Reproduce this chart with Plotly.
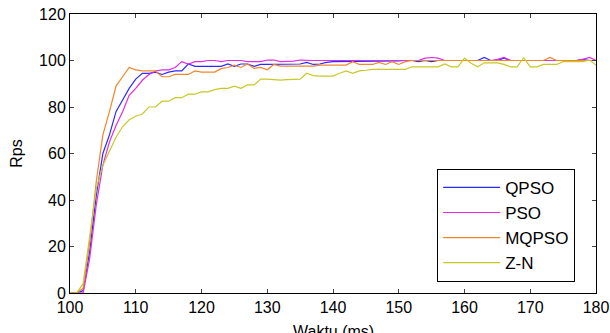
import plotly.graph_objects as go

t = list(range(100, 181))

qpso = [0, 0, 1, 18, 42, 60, 68, 78, 83, 88,
        92, 94.5, 94.5, 95, 94, 95, 95.5, 95.5, 98.5, 97.5,
        97.5, 97.5, 97.5, 97.5, 98.5, 97.5, 98.5, 98.5, 97.5, 98.3,
        98.3, 98.3, 98.3, 98.3, 98.3, 98.5, 99.2, 98.3, 98.5, 99.2,
        99.5, 99.5, 99.5, 99.5, 99.5, 99.8, 99.5, 99.5, 99.5, 99.8,
        99.8, 100, 100, 99.5, 100, 99.5, 100, 100, 100, 100,
        100, 100, 100, 101.3, 100, 100, 101, 100, 100, 100,
        100, 100, 100, 100, 100, 100, 100, 100, 100.5, 100, 100]

pso = [0, 0, 0, 15, 38, 55, 65, 72, 78, 85,
       88, 91.5, 94, 95.5, 96, 96, 97, 99.5, 98.5, 99.5,
       99.5, 100, 100, 99.5, 100, 100, 100, 99.5, 99.5, 99.5,
       100.2, 100.2, 99.5, 99.5, 99.7, 100.2, 100, 100, 100, 100,
       100, 100, 100, 100, 100, 100, 100, 100, 100, 100,
       100, 100, 100, 100, 101, 101.3, 101, 100, 100, 100,
       100, 100, 100, 100, 100, 100.5, 101.3, 100, 100, 100,
       100, 100, 100, 100, 100, 100, 100, 100, 100.5, 101.3, 100]

mqpso = [0, 0, 2, 22, 48, 68, 78, 89, 93, 97,
         96, 95.5, 95.5, 95.5, 93, 93, 94, 94, 94, 95.5,
         95, 95, 95, 96.5, 97, 98, 97, 98.5, 96.6, 97,
         96, 98.3, 97.6, 97.6, 97.6, 97.6, 97.6, 97.6, 98, 98,
         98.3, 98.3, 98, 99.5, 98.3, 98.3, 98.3, 99.2, 98.3, 99.5,
         98.3, 99.5, 100, 100, 100, 100, 100, 100, 100, 100,
         100, 100, 100, 100, 100, 100, 100, 100, 100, 100,
         100, 100, 100, 101.3, 100, 100, 100, 100, 100, 100, 100]

zn = [0, 0, 4, 25, 45, 55, 61, 67, 71.5, 74.5,
      76, 77, 80, 80, 82.5, 82.5, 84, 84, 85.5, 85.5,
      86.5, 86.5, 87.5, 88, 88, 89, 88, 89.5, 89.5, 92,
      92, 91.8, 91.6, 91.8, 92, 92, 94.5, 93.5, 93.3, 93.3,
      93.3, 94.5, 95.5, 94.5, 95.5, 95.8, 96.2, 96.2, 96.2, 96.2,
      96.2, 96.2, 97.3, 97.3, 97.3, 97.3, 97.3, 98.5, 97.3, 97.3,
      101, 98.8, 97.3, 99, 99, 99, 98.3, 97.3, 97.3, 101.2,
      97.3, 97.3, 98.3, 98.3, 98.3, 99.5, 99.5, 99.5, 99.5, 100.2, 98]

names = ["QPSO", "PSO", "MQPSO", "Z-N"]
colors = ["#2a2aff", "#e02ee0", "#f0862a", "#c8c82a"]
series = [qpso, pso, mqpso, zn]

xticks = [100, 110, 120, 130, 140, 150, 160, 170, 180]
yticks = [0, 20, 40, 60, 80, 100, 120]
x_title = "Waktu (ms)"
y_title = "Rps"

fig = go.Figure()
for n, c, s in zip(names, colors, series):
    fig.add_trace(go.Scatter(x=t, y=s, mode="lines", name=n,
                             line=dict(color=c, width=1.2)))

font_family = "Liberation Sans, Arial, sans-serif"
fig.update_layout(
    width=610, height=333,
    margin=dict(l=70, r=14, t=14, b=40),
    paper_bgcolor="white", plot_bgcolor="white",
    font=dict(family=font_family, size=16, color="black"),
    showlegend=True,
    legend=dict(x=0.698, y=0.445, xanchor="left", yanchor="top",
                bgcolor="white", bordercolor="black", borderwidth=1,
                font=dict(size=17), tracegroupgap=0, itemwidth=57),
)
fig.add_annotation(text=x_title, xref="paper", yref="paper", x=0.5, y=0,
                   xanchor="center", yanchor="top", yshift=-28,
                   showarrow=False, font=dict(size=16))
fig.update_xaxes(range=[100, 180], tickvals=xticks, ticks="inside", ticklen=4,
                 showline=True, linecolor="black", linewidth=1, mirror="ticks",
                 showgrid=False, zeroline=False, automargin=False)
fig.update_yaxes(range=[0, 120], tickvals=yticks, ticks="inside", ticklen=4,
                 showline=True, linecolor="black", linewidth=1, mirror="ticks",
                 showgrid=False, zeroline=False, automargin=False,
                 title=dict(text=y_title, standoff=12, font=dict(size=16)))

fig.write_html("out.html", config={"displayModeBar": False},
               post_script="document.body.style.margin='0';")
